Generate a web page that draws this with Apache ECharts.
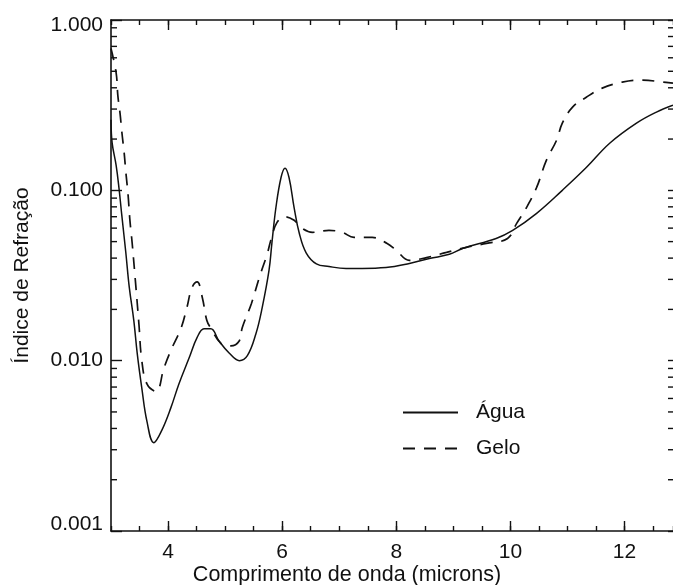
<!DOCTYPE html>
<html>
<head>
<meta charset="utf-8">
<script src="https://cdn.jsdelivr.net/npm/echarts@6/dist/echarts.min.js"></script>
<style>
  html, body { margin: 0; padding: 0; background: #fff; }
  #chart { width: 673px; height: 585px; }
</style>
</head>
<body>
<div id="chart"></div>
<script>
// Wavelength range (microns)
const X_MIN = 3;
const X_MAX = 12.85;

// Liquid water: imaginary refractive index vs wavelength
const waterX = [3.0, 3.02, 3.09, 3.14, 3.19, 3.26, 3.32, 3.40, 3.46, 3.54, 3.63, 3.75, 3.89, 4.05,
  4.19, 4.37, 4.51, 4.63, 4.75, 4.89, 5.07, 5.25, 5.39, 5.54, 5.65, 5.77, 5.82, 5.89, 5.98, 6.05,
  6.12, 6.21, 6.30, 6.42, 6.60, 6.82, 7.12, 7.40, 7.82, 8.23, 8.58, 8.93, 9.16, 9.75, 10.04, 10.46,
  10.91, 11.33, 11.74, 12.21, 12.56, 12.85];
const waterN = [0.26, 0.19, 0.14, 0.103, 0.071, 0.043, 0.027, 0.0172, 0.011, 0.0069, 0.0044, 0.0033,
  0.0039, 0.0053, 0.0073, 0.0104, 0.0137, 0.0154, 0.0154, 0.0131, 0.0111, 0.0100, 0.0107, 0.0144,
  0.0205, 0.034, 0.049, 0.079, 0.119, 0.135, 0.119, 0.079, 0.056, 0.043, 0.037, 0.0357, 0.0348,
  0.0348, 0.0352, 0.0372, 0.0398, 0.0421, 0.0456, 0.0522, 0.0582, 0.0733, 0.100, 0.136, 0.189,
  0.248, 0.288, 0.316];

// Ice: imaginary refractive index vs wavelength
const iceX = [3.0, 3.09, 3.12, 3.16, 3.19, 3.23, 3.26, 3.30, 3.33, 3.37, 3.44, 3.49, 3.54, 3.63,
  3.79, 3.93, 4.07, 4.23, 4.33, 4.42, 4.51, 4.60, 4.68, 4.75, 4.93, 5.10, 5.25, 5.30, 5.46, 5.60,
  5.74, 5.81, 5.91, 6.04, 6.21, 6.33, 6.53, 6.82, 7.05, 7.26, 7.58, 7.84, 8.0, 8.23, 8.53, 8.88,
  9.23, 9.58, 9.95, 10.11, 10.28, 10.46, 10.63, 10.81, 10.91, 11.09, 11.33, 11.61, 11.96, 12.32,
  12.67, 12.85];
const iceN = [0.68, 0.49, 0.36, 0.28, 0.22, 0.167, 0.128, 0.0935, 0.0675, 0.0494, 0.0262, 0.0163,
  0.010, 0.0073, 0.0066, 0.0091, 0.0119, 0.0156, 0.0205, 0.0269, 0.029, 0.0235, 0.0172, 0.0155,
  0.0126, 0.0122, 0.0131, 0.0156, 0.0216, 0.0308, 0.0426, 0.0522, 0.0648, 0.070, 0.0667, 0.0605,
  0.0567, 0.0582, 0.0567, 0.0529, 0.0529, 0.0488, 0.0444, 0.0388, 0.0403, 0.0432, 0.0463, 0.0488,
  0.0522, 0.064, 0.079, 0.104, 0.150, 0.197, 0.248, 0.308, 0.352, 0.398, 0.432, 0.444, 0.432, 0.426];

// Tick values
const xMajorTicks = [4, 6, 8, 10, 12];
const yMinorTicks = [0.002, 0.003, 0.004, 0.005, 0.006, 0.007, 0.008, 0.009,
  0.02, 0.03, 0.04, 0.05, 0.06, 0.07, 0.08, 0.09,
  0.2, 0.3, 0.4, 0.5, 0.6, 0.7, 0.8, 0.9];

const FONT = '"Liberation Sans", Arial, Helvetica, sans-serif';
const INK = '#111';

const zip = (xs, ys) => xs.map((x, i) => [x, ys[i]]);

const chart = echarts.init(document.getElementById('chart'), null, { renderer: 'canvas' });

const frameLine = { show: true, lineStyle: { color: INK, width: 1.6 } };
const tickStyle = { color: INK, width: 1.4 };

function xAxisPair(position, withLabels) {
  return [
    {
      type: 'value', position, min: X_MIN, max: X_MAX, interval: 0.5,
      axisLine: frameLine,
      axisTick: { show: true, inside: true, length: 5, lineStyle: tickStyle },
      axisLabel: { show: false },
      splitLine: { show: false }
    },
    {
      type: 'value', position, min: X_MIN, max: X_MAX,
      axisLine: { show: false },
      axisTick: { show: true, inside: true, length: 10, customValues: xMajorTicks, lineStyle: tickStyle },
      axisLabel: withLabels
        ? { show: true, customValues: xMajorTicks, fontFamily: FONT, fontSize: 21, color: INK, margin: 11 }
        : { show: false },
      splitLine: { show: false },
      name: withLabels ? 'Comprimento de onda (microns)' : '',
      nameLocation: 'middle',
      nameGap: 33,
      nameMoveOverlap: false,
      nameTextStyle: { fontFamily: FONT, fontSize: 21.5, color: INK, padding: [0, 90, 0, 0] }
    }
  ];
}

// Short log-decade sub-ticks on the left and right frame edges
function minorTickRender(params, api) {
  const v = api.value(1);
  const left = api.coord([X_MIN, v]);
  const right = api.coord([X_MAX, v]);
  return {
    type: 'group',
    children: [
      { type: 'line', shape: { x1: left[0], y1: left[1], x2: left[0] + 6, y2: left[1] },
        style: { stroke: INK, lineWidth: 1.4 } },
      { type: 'line', shape: { x1: right[0] - 5, y1: right[1], x2: right[0], y2: right[1] },
        style: { stroke: INK, lineWidth: 1.4 } }
    ]
  };
}

// End labels sit inside the frame: lowest nudged up, highest nudged down
function yLabel(v) {
  const s = Number(v).toFixed(3);
  if (v <= 0.0011) return '{lo|' + s + '}';
  if (v >= 0.99) return '{hi|' + s + '}';
  return s;
}

chart.setOption({
  animation: false,
  backgroundColor: '#fff',
  grid: { left: 111, right: 0, top: 20, bottom: 54, containLabel: false, outerBoundsMode: 'none' },
  xAxis: [...xAxisPair('bottom', true), ...xAxisPair('top', false)],
  yAxis: [
    {
      type: 'log', logBase: 10, position: 'left', min: 0.001, max: 1,
      axisLine: frameLine,
      axisTick: { show: true, inside: true, length: 11, lineStyle: tickStyle },
      axisLabel: {
        show: true, fontFamily: FONT, fontSize: 21, color: INK, margin: 8,
        formatter: yLabel,
        rich: {
          lo: { fontFamily: FONT, fontSize: 21, color: INK, padding: [0, 0, 13, 0] },
          hi: { fontFamily: FONT, fontSize: 21, color: INK, padding: [10, 0, 0, 0] }
        }
      },
      splitLine: { show: false },
      minorTick: { show: false },
      name: 'Índice de Refração',
      nameLocation: 'middle',
      nameGap: 78,
      nameMoveOverlap: false,
      nameTextStyle: { fontFamily: FONT, fontSize: 21, color: INK }
    },
    {
      type: 'log', logBase: 10, position: 'right', min: 0.001, max: 1,
      axisLine: { show: false },
      axisTick: { show: true, inside: true, length: 5, lineStyle: tickStyle },
      axisLabel: { show: false },
      splitLine: { show: false }
    }
  ],
  legend: {
    data: ['Água', 'Gelo'],
    orient: 'vertical',
    left: 397,
    top: 397,
    itemWidth: 55,
    itemHeight: 14,
    itemGap: 15,
    itemStyle: { opacity: 0 },
    textStyle: { fontFamily: FONT, fontSize: 21, color: INK, lineHeight: 21, padding: [0, 0, 0, 13] }
  },
  series: [
    {
      name: 'Água', type: 'line', xAxisIndex: 0, yAxisIndex: 0,
      data: zip(waterX, waterN),
      showSymbol: false, symbol: 'none',
      smooth: 0.4,
      lineStyle: { color: INK, width: 1.5, type: 'solid' },
      itemStyle: { color: INK }
    },
    {
      name: 'Gelo', type: 'line', xAxisIndex: 0, yAxisIndex: 0,
      data: zip(iceX, iceN),
      showSymbol: false, symbol: 'none',
      smooth: 0.4,
      lineStyle: { color: INK, width: 1.7, type: [12, 9] },
      itemStyle: { color: INK }
    },
    {
      name: 'ticks', type: 'custom', xAxisIndex: 0, yAxisIndex: 0,
      data: yMinorTicks.map(v => [X_MIN, v]),
      renderItem: minorTickRender,
      clip: false, silent: true
    }
  ]
});
</script>
</body>
</html>
